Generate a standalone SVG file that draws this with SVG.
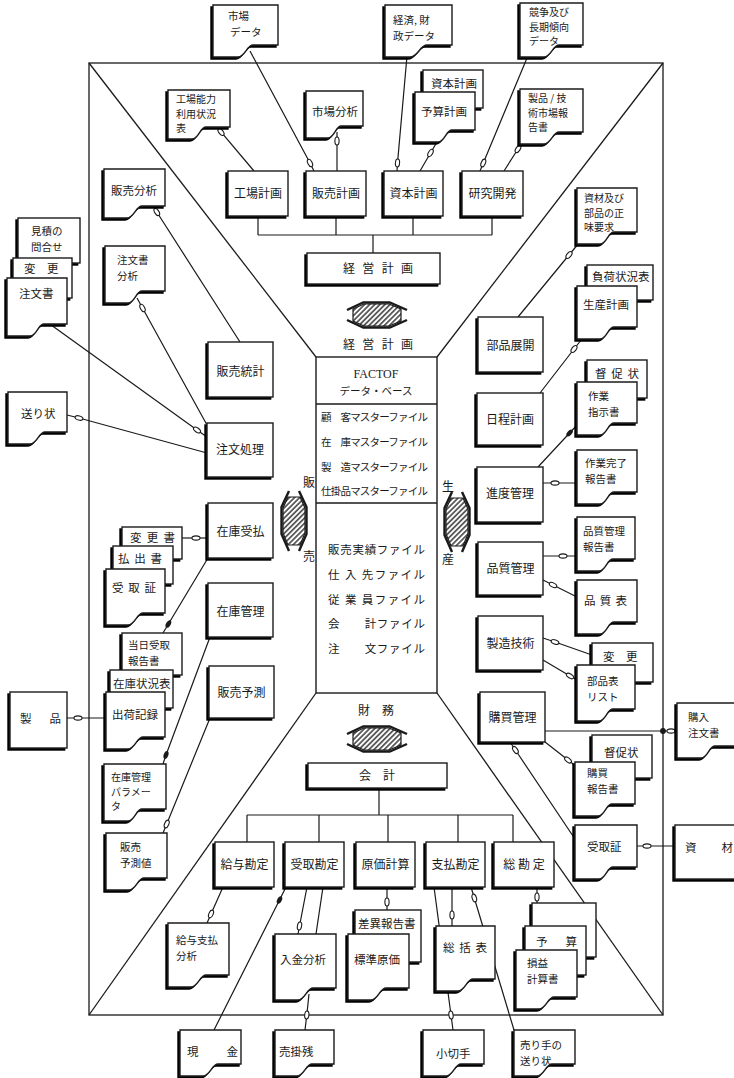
<svg xmlns="http://www.w3.org/2000/svg" width="734" height="1078" viewBox="0 0 734 1078">
<defs>
<style>
.fr{fill:none;stroke:#1a1a1a;stroke-width:1.3}
.ln{fill:none;stroke:#1a1a1a;stroke-width:1.2}
.bd{marker-mid:url(#b)}
.bf{marker-mid:url(#bfl)}
.bx{fill:#fff;stroke:#1a1a1a;stroke-width:1.4;filter:url(#sh)}
.pl{fill:#fff;stroke:#1a1a1a;stroke-width:1.4}
.t{font-family:"Noto Sans CJK JP","Noto Sans CJK SC",sans-serif;font-size:11.5px;fill:#1a1a1a}
.b{font-size:12px}
.s{font-size:10.5px}
.m{font-size:10.5px}
.m3{font-size:10px}
.c{text-anchor:middle}
.hb{stroke:#1a1a1a;stroke-width:1.2}
.hr{fill:none;stroke:#1a1a1a;stroke-width:2.4;stroke-linejoin:round}
</style>
<filter id="sh" x="-15%" y="-15%" width="130%" height="130%"><feOffset in="SourceAlpha" dx="-2.5" dy="2" result="o"/><feMerge><feMergeNode in="o"/><feMergeNode in="SourceGraphic"/></feMerge></filter>
<pattern id="h1" patternUnits="userSpaceOnUse" width="3.6" height="3.6" patternTransform="rotate(45)"><rect width="3.6" height="3.6" fill="#fff"/><line x1="1.8" y1="0" x2="1.8" y2="3.6" stroke="#1a1a1a" stroke-width="1.3"/></pattern>
<pattern id="h2" patternUnits="userSpaceOnUse" width="3.6" height="3.6" patternTransform="rotate(-45)"><rect width="3.6" height="3.6" fill="#fff"/><line x1="1.8" y1="0" x2="1.8" y2="3.6" stroke="#1a1a1a" stroke-width="1.3"/></pattern>
<marker id="b" viewBox="-5 -3 10 6" markerWidth="10" markerHeight="6" markerUnits="userSpaceOnUse" orient="auto"><ellipse rx="4" ry="2.1" fill="#fff" stroke="#1a1a1a" stroke-width="1.1"/></marker>
<marker id="bfl" viewBox="-5 -3 10 6" markerWidth="10" markerHeight="6" markerUnits="userSpaceOnUse" orient="auto"><ellipse rx="4" ry="2.3" fill="#1a1a1a"/></marker>
<g id="haH"><polygon class="hb" points="-24,-6 -13,-11 12,-11 24,-6 24,6 12,11 -13,11 -24,6" fill="url(#h1)"/><polyline class="hr" points="-30,-5 -14,-12.5 13,-12.5 30,-5"/><polyline class="hr" points="-30,5 -14,12.5 13,12.5 30,5"/></g>
<g id="haV"><polygon class="hb" points="-24,-6 -13,-11 12,-11 24,-6 24,6 12,11 -13,11 -24,6" fill="url(#h2)"/><polyline class="hr" points="-30,-5 -14,-12.5 13,-12.5 30,-5"/><polyline class="hr" points="-30,5 -14,12.5 13,12.5 30,5"/></g>
</defs>
<rect width="734" height="1078" fill="#fff"/>

<g id="frame" class="fr">
<rect x="89" y="63" width="574" height="952"/>
<line x1="89" y1="63" x2="316" y2="357"/>
<line x1="663" y1="63" x2="437" y2="357"/>
<line x1="89" y1="1015" x2="316" y2="693"/>
<line x1="663" y1="1015" x2="437" y2="693"/>
</g>

<g id="connectors" class="ln">
<path d="M258,216V235M336,216V235M413,216V235M492,216V235M258,235H492M373,235V253"/>
<path d="M379,788V815M247,815H513M247,815V842M319,815V842M388,815V842M458,815V842M513,815V842"/>
<path class="bd" d="M250,51L310,163L314,171"/>
<path class="bd" d="M407,56L397.5,163L397,171"/>
<path class="bd" d="M527,58L483.3,163L480,171"/>
<path class="bd" d="M420,171L430.5,153L437,142"/>
<path class="bd" d="M254,171L221,132L218,128"/>
<path class="bd" d="M337,171L337,141L337,132"/>
<path class="bd" d="M504,171L518,149L522,143"/>
<path class="bd" d="M518,317L569,255L579,243"/>
<path class="bd" d="M540,393L574,349L582,339"/>
<path class="bf" d="M538,467L569.6,433L578,424"/>
<path class="bd" d="M543,483L555,483L577,483"/>
<path class="bd" d="M543,556L563,556L577,556"/>
<path class="bd" d="M543,580L553,585L577,597"/>
<path class="bd" d="M543,638L555,642L592,655"/>
<path class="bd" d="M543,660L570,676L577,680"/>
<path class="bd" d="M545,731L671,731L677,731"/>
<circle cx="663" cy="731" r="2.3" fill="#1a1a1a"/>
<path class="bd" d="M545,742L568,760L577,767"/>
<path class="bd" d="M577,842L515.4,750L510,742"/>
<path class="bd" d="M637,846L647,846L675,846"/>
<path class="bd" d="M240,342L156.8,212L153,206"/>
<path class="bd" d="M207,425L142.5,308L137,298"/>
<path class="bd" d="M47,322L197,430L207,437"/>
<path class="bd" d="M67,415L79,418L207,453"/>
<path class="bd" d="M208,538L196,538L182,538"/>
<path class="bf" d="M208,558L168.4,624L163,633"/>
<path class="bd" d="M67,718L78,718L106,718"/>
<path class="bf" d="M210,637L166,755L163,764"/>
<path class="bd" d="M210,718L166.7,824L163,833"/>
<path class="bd" d="M223,887L211,914L207,923"/>
<path class="bd" d="M307,887L299.5,926L298,934"/>
<path d="M323,887L316,934"/>
<path class="bf" d="M286,887L279.5,900L214,1030"/>
<path class="bd" d="M387,887L387,902L387,910"/>
<path class="bd" d="M434,887L451,1015L453,1030"/>
<path class="bd" d="M452,887L452,915L452,926"/>
<path class="bd" d="M471,887L474.3,898L514,1030"/>
<path class="bd" d="M537,887L537,897L537,903"/>
<path class="bd" d="M309,994L306.8,1015L305,1030"/>
</g>

<g id="n-shijo-data"><path class="bx" transform="translate(213,5)" d="M0,0H65V40H40C34,40 32,52 25,52H0Z"/><text class="t m" x="228" y="20">市場</text><text class="t m" x="230" y="35.5">データ</text></g>
<g id="n-keizai-data"><path class="bx" transform="translate(385,5)" d="M0,0H67V40H42C35,40 33,52 25,52H0Z"/><text class="t m" x="393" y="24">経済, 財</text><text class="t m" x="393" y="39.5">政データ</text></g>
<g id="n-kyoso-data"><path class="bx" transform="translate(520,3)" d="M0,0H63V42H39C33,42 31,54 24,54H0Z"/><text class="t m3" x="529" y="16">競争及び</text><text class="t m3" x="529" y="30.5">長期傾向</text><text class="t m3" x="529" y="45">データ</text></g>
<g id="n-kojo-noryoku"><path class="bx" transform="translate(168,90)" d="M0,0H62V37H38C32,37 31,49 24,49H0Z"/><text class="t m3" x="176" y="103">工場能力</text><text class="t m3" x="176" y="117.5">利用状況</text><text class="t m3" x="176" y="132">表</text></g>
<g id="n-shijo-bunseki"><path class="bx" transform="translate(306,91)" d="M0,0H57V35H35C30,35 28,47 22,47H0Z"/><text class="t" x="312" y="116">市場分析</text></g>
<g id="n-shihon-keikaku2"><rect class="bx" x="423" y="70" width="60" height="38"/><text class="t c" x="454" y="88">資本計画</text></g>
<g id="n-yosan-keikaku"><path class="bx" transform="translate(415,92)" d="M0,0H60V38H37C31,38 30,50 23,50H0Z"/><text class="t" x="421" y="116">予算計画</text></g>
<g id="n-seihin-gijutsu"><path class="bx" transform="translate(520,89)" d="M0,0H63V43H39C33,43 31,55 24,55H0Z"/><text class="t m3" x="528" y="102">製品 / 技</text><text class="t m3" x="528" y="116.5">術市場報</text><text class="t m3" x="528" y="131">告書</text></g>

<g id="n-kojo-keikaku"><rect class="bx" x="228" y="171" width="60" height="45"/><text class="t b c" x="258" y="198">工場計画</text></g>
<g id="n-hanbai-keikaku"><rect class="bx" x="306" y="171" width="60" height="45"/><text class="t b c" x="336" y="198">販売計画</text></g>
<g id="n-shihon-keikaku"><rect class="bx" x="384" y="171" width="59" height="45"/><text class="t b c" x="413.5" y="198">資本計画</text></g>
<g id="n-kenkyu-kaihatsu"><rect class="bx" x="462" y="171" width="61" height="45"/><text class="t b c" x="492.5" y="198">研究開発</text></g>
<g id="n-keiei-keikaku"><rect class="bx" x="307" y="253" width="133" height="31"/><text class="t b" x="343" y="273" textLength="70">経 営 計 画</text></g>

<g id="n-hanbai-bunseki"><path class="bx" transform="translate(104,169)" d="M0,0H61V37H38C32,37 30,49 23,49H0Z"/><text class="t" x="111" y="195">販売分析</text></g>
<g id="n-chumonsho-bunseki"><path class="bx" transform="translate(105,246)" d="M0,0H60V45H37C31,45 30,57 23,57H0Z"/><text class="t m" x="117" y="264">注文書</text><text class="t m" x="117" y="279.5">分析</text></g>
<g id="n-mitsumori"><rect class="bx" x="18" y="218" width="62" height="45"/><text class="t m" x="31" y="235">見積の</text><text class="t m" x="31" y="250.5">問合せ</text></g>
<g id="n-henko-l"><rect class="bx" x="13" y="258" width="59" height="40"/><text class="t" x="24" y="273">変　更</text></g>
<g id="n-chumonsho"><path class="bx" transform="translate(7,278)" d="M0,0H60V46H37C31,46 30,58 23,58H0Z"/><text class="t" x="19" y="298">注文書</text></g>
<g id="n-okurijo"><path class="bx" transform="translate(8,392)" d="M0,0H59V40H37C31,40 29,52 22,52H0Z"/><text class="t" x="21" y="418">送り状</text></g>
<g id="n-hanbai-tokei"><rect class="bx" x="208" y="342" width="65" height="55"/><text class="t b c" x="240.5" y="376">販売統計</text></g>
<g id="n-chumon-shori"><rect class="bx" x="207" y="423" width="66" height="54"/><text class="t b c" x="240" y="454">注文処理</text></g>

<g id="n-shizai-yokyu"><path class="bx" transform="translate(577,188)" d="M0,0H60V44H37C31,44 30,56 23,56H0Z"/><text class="t m3" x="584" y="202">資材及び</text><text class="t m3" x="584" y="216.5">部品の正</text><text class="t m3" x="584" y="231">味要求</text></g>
<g id="n-buhin-tenkai"><rect class="bx" x="478" y="317" width="65" height="55"/><text class="t b c" x="510.5" y="350">部品展開</text></g>
<g id="n-fuka"><rect class="bx" x="587" y="265" width="66" height="35"/><text class="t" x="592" y="281">負荷状況表</text></g>
<g id="n-seisan-keikaku"><path class="bx" transform="translate(577,286)" d="M0,0H60V41H37C31,41 30,53 23,53H0Z"/><text class="t" x="583" y="309">生産計画</text></g>
<g id="n-nittei-keikaku"><rect class="bx" x="477" y="393" width="66" height="52"/><text class="t b c" x="510" y="424">日程計画</text></g>
<g id="n-tokusoku1"><rect class="bx" x="587" y="360" width="60" height="38"/><text class="t" x="595" y="378" textLength="44">督 促 状</text></g>
<g id="n-sagyo-shiji"><path class="bx" transform="translate(577,382)" d="M0,0H60V41H37C31,41 30,53 23,53H0Z"/><text class="t m" x="588" y="400">作業</text><text class="t m" x="588" y="415.5">指示書</text></g>
<g id="n-shindo-kanri"><rect class="bx" x="477" y="467" width="66" height="55"/><text class="t b c" x="510" y="498">進度管理</text></g>
<g id="n-sagyo-kanryo"><path class="bx" transform="translate(577,450)" d="M0,0H60V42H37C31,42 30,54 23,54H0Z"/><text class="t m" x="585" y="467">作業完了</text><text class="t m" x="585" y="482.5">報告書</text></g>
<g id="n-hinshitsu-hokoku"><path class="bx" transform="translate(577,517)" d="M0,0H58V42H36C30,42 29,54 22,54H0Z"/><text class="t m" x="583" y="535">品質管理</text><text class="t m" x="583" y="550.5">報告書</text></g>
<g id="n-hinshitsu-kanri"><rect class="bx" x="478" y="542" width="65" height="53"/><text class="t b c" x="510.5" y="573">品質管理</text></g>
<g id="n-hinshitsu-hyo"><path class="bx" transform="translate(577,580)" d="M0,0H60V42H37C31,42 30,54 23,54H0Z"/><text class="t" x="584" y="605" textLength="43">品 質 表</text></g>
<g id="n-seizo-gijutsu"><rect class="bx" x="478" y="616" width="65" height="54"/><text class="t b c" x="510.5" y="648">製造技術</text></g>
<g id="n-henko-r"><rect class="bx" x="592" y="643" width="61" height="39"/><text class="t" x="603" y="661">変　更</text></g>
<g id="n-buhinhyo"><path class="bx" transform="translate(577,665)" d="M0,0H58V44H36C30,44 29,56 22,56H0Z"/><text class="t m" x="587" y="685">部品表</text><text class="t m" x="587" y="700.5">リスト</text></g>
<g id="n-konyu-kanri"><rect class="bx" x="480" y="692" width="65" height="50"/><text class="t b c" x="512.5" y="722">購買管理</text></g>
<g id="n-konyu-chumon"><path class="bx" transform="translate(677,703)" d="M0,0H62V43H38C32,43 31,55 24,55H0Z"/><text class="t m" x="688" y="721">購入</text><text class="t m" x="688" y="736.5">注文書</text></g>
<g id="n-tokusoku2"><rect class="bx" x="592" y="735" width="60" height="43"/><text class="t" x="604" y="757">督促状</text></g>
<g id="n-konyu-hokoku"><path class="bx" transform="translate(575,762)" d="M0,0H60V42H37C31,42 30,54 23,54H0Z"/><text class="t m" x="587" y="777">購買</text><text class="t m" x="587" y="792.5">報告書</text></g>
<g id="n-uketori-r"><path class="bx" transform="translate(575,825)" d="M0,0H62V42H38C32,42 31,54 24,54H0Z"/><text class="t" x="587" y="851">受取証</text></g>
<g id="n-shizai"><rect class="bx" x="675" y="825" width="70" height="54"/><text class="t" x="685" y="852" textLength="48">資　　材</text></g>

<g id="n-zaiko-ukeharai"><rect class="bx" x="208" y="503" width="65" height="55"/><text class="t b c" x="240.5" y="536">在庫受払</text></g>
<g id="n-henkosho"><rect class="bx" x="122" y="527" width="60" height="32"/><text class="t" x="130" y="542" textLength="45">変 更 書</text></g>
<g id="n-haraidashi"><rect class="bx" x="113" y="546" width="60" height="38"/><text class="t" x="118" y="563" textLength="44">払 出 書</text></g>
<g id="n-uketori-l"><path class="bx" transform="translate(106,569)" d="M0,0H59V44H37C31,44 29,56 22,56H0Z"/><text class="t" x="112" y="592" textLength="44">受 取 証</text></g>
<g id="n-zaiko-kanri"><rect class="bx" x="208" y="583" width="65" height="54"/><text class="t b c" x="240.5" y="616">在庫管理</text></g>
<g id="n-hanbai-yosoku"><rect class="bx" x="209" y="666" width="65" height="52"/><text class="t b c" x="241.5" y="697">販売予測</text></g>
<g id="n-tojitsu"><rect class="bx" x="122" y="633" width="60" height="42"/><text class="t m" x="128" y="649">当日受取</text><text class="t m" x="128" y="664.5">報告書</text></g>
<g id="n-zaiko-jokyo"><rect class="bx" x="110" y="670" width="63" height="38"/><text class="t" x="113" y="688">在庫状況表</text></g>
<g id="n-shukka"><path class="bx" transform="translate(106,692)" d="M0,0H59V45H37C31,45 29,57 22,57H0Z"/><text class="t" x="112" y="719">出荷記録</text></g>
<g id="n-seihin"><rect class="bx" x="10" y="692" width="57" height="56"/><text class="t" x="20" y="723" textLength="41">製　　品</text></g>
<g id="n-zaiko-param"><path class="bx" transform="translate(104,764)" d="M0,0H62V45H38C32,45 31,57 24,57H0Z"/><text class="t m3" x="111" y="781">在庫管理</text><text class="t m3" x="111" y="795.5">パラメー</text><text class="t m3" x="111" y="810">タ</text></g>
<g id="n-yosokuchi"><path class="bx" transform="translate(106,833)" d="M0,0H61V45H38C32,45 30,57 23,57H0Z"/><text class="t m" x="120" y="851">販売</text><text class="t m" x="120" y="866.5">予測値</text></g>

<g id="n-kaikei"><rect class="bx" x="308" y="763" width="139" height="25"/><text class="t b c" x="377" y="780">会　計</text></g>
<g id="n-kyuyo"><rect class="bx" x="215" y="842" width="59" height="45"/><text class="t b c" x="244.5" y="869">給与勘定</text></g>
<g id="n-uketori-kanjo"><rect class="bx" x="285" y="842" width="59" height="45"/><text class="t b c" x="314.5" y="869">受取勘定</text></g>
<g id="n-genka"><rect class="bx" x="356" y="842" width="59" height="45"/><text class="t b c" x="385.5" y="869">原価計算</text></g>
<g id="n-shiharai"><rect class="bx" x="426" y="842" width="59" height="45"/><text class="t b c" x="455.5" y="869">支払勘定</text></g>
<g id="n-so-kanjo"><rect class="bx" x="494" y="842" width="60" height="45"/><text class="t b c" x="524" y="869">総 勘 定</text></g>
<g id="n-kyuyo-bunseki"><path class="bx" transform="translate(168,923)" d="M0,0H61V52H38C32,52 30,64 23,64H0Z"/><text class="t m" x="176" y="944">給与支払</text><text class="t m" x="176" y="959.5">分析</text></g>
<g id="n-nyukin"><path class="bx" transform="translate(275,934)" d="M0,0H61V54H38C32,54 30,66 23,66H0Z"/><text class="t" x="280" y="964">入金分析</text></g>
<g id="n-sai"><rect class="bx" x="355" y="910" width="66" height="52"/><text class="t" x="358" y="928">差異報告書</text></g>
<g id="n-hyojun"><path class="bx" transform="translate(348,934)" d="M0,0H61V54H38C32,54 30,66 23,66H0Z"/><text class="t" x="354" y="964">標準原価</text></g>
<g id="n-sokatsu"><path class="bx" transform="translate(436,926)" d="M0,0H59V53H37C31,53 29,65 22,65H0Z"/><text class="t" x="443" y="952" textLength="44">総 括 表</text></g>
<g id="n-blank"><rect class="bx" x="532" y="903" width="64" height="54"/></g>
<g id="n-yosan"><rect class="bx" x="525" y="926" width="61" height="49"/><text class="t" x="536" y="946" textLength="41">予　　算</text></g>
<g id="n-soneki"><path class="bx" transform="translate(516,950)" d="M0,0H61V47H38C32,47 30,59 23,59H0Z"/><text class="t m" x="527" y="967">損益</text><text class="t m" x="527" y="982.5">計算書</text></g>
<g id="n-genkin"><path class="bx" transform="translate(180,1030)" d="M0,0H61V34H38C32,34 30,46 23,46H0Z"/><text class="t" x="187" y="1056" textLength="51">現　　金</text></g>
<g id="n-urikake"><path class="bx" transform="translate(275,1030)" d="M0,0H59V34H37C31,34 29,46 22,46H0Z"/><text class="t" x="279" y="1056">売掛残</text></g>
<g id="n-kogitte"><path class="bx" transform="translate(423,1030)" d="M0,0H61V34H38C32,34 30,46 23,46H0Z"/><text class="t" x="436" y="1058">小切手</text></g>
<g id="n-urite"><path class="bx" transform="translate(514,1030)" d="M0,0H61V34H38C32,34 30,46 23,46H0Z"/><text class="t m" x="520" y="1049">売り手の</text><text class="t m" x="520" y="1064.5">送り状</text></g>

<g id="n-factor">
<rect class="pl" x="316" y="357" width="121" height="336"/>
<line class="fr" x1="316" y1="404" x2="437" y2="404"/>
<line class="fr" x1="316" y1="503" x2="437" y2="503"/>
<text class="c" x="376" y="378" font-family="Liberation Serif,serif" font-size="12" fill="#1a1a1a">FACTOF</text>
<text class="t c s" x="376" y="395">データ・ベース</text>
<text class="t s" x="321" y="421" textLength="107">顧　客マスターファイル</text>
<text class="t s" x="321" y="446" textLength="107">在　庫マスターファイル</text>
<text class="t s" x="321" y="471" textLength="107">製　造マスターファイル</text>
<text class="t s" x="321" y="495" textLength="107">仕掛品マスターファイル</text>
<text class="t" x="328" y="554" textLength="97">販売実績ファイル</text>
<text class="t" x="328" y="579" textLength="97">仕 入 先ファイル</text>
<text class="t" x="328" y="604" textLength="97">従 業 員ファイル</text>
<text class="t" x="328" y="628" textLength="97">会　　計ファイル</text>
<text class="t" x="328" y="653" textLength="97">注　　文ファイル</text>
</g>

<g id="n-arrow-keiei"><use href="#haH" transform="translate(377,315)"/><text class="t b" x="343" y="349" textLength="70">経 営 計 画</text></g>
<g id="n-arrow-hanbai"><use href="#haV" transform="translate(294,521) rotate(90)"/><text class="t b c" x="309" y="487">販</text><text class="t b c" x="309" y="561">売</text></g>
<g id="n-arrow-seisan"><use href="#haV" transform="translate(457,522) rotate(90)"/><text class="t b c" x="448" y="491">生</text><text class="t b c" x="448" y="564">産</text></g>
<g id="n-arrow-zaimu"><use href="#haH" transform="translate(377,739)"/><text class="t b c" x="376" y="715">財　務</text></g>
</svg>
